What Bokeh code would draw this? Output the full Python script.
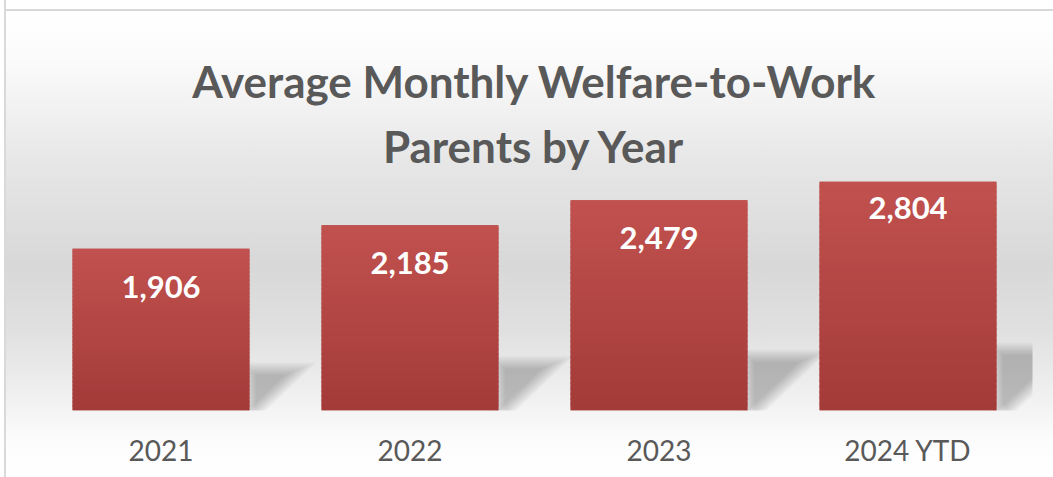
import numpy as np
from bokeh.plotting import figure
from bokeh.models import Range1d, FixedTicker, Title
from bokeh.embed import file_html
from bokeh.resources import INLINE
from bokeh.core.properties import value

# ---- data ----
categories = ["2021", "2022", "2023", "2024 YTD"]
parents = [1906, 2185, 2479, 2804]
value_labels = ["1,906", "2,185", "2,479", "2,804"]
title_lines = ["Average Monthly Welfare-to-Work", "Parents by Year"]
Y_MAX = 2700  # fixed axis maximum (last bar is clipped at the top)

# ---- layout ----
W, H = 1053, 477
ML, MR, MT, MB = 36, 21, 181, 67
frame_w = W - ML - MR
frame_h = H - MT - MB
px_x = frame_w / len(categories)
px_y = frame_h / Y_MAX
BAR_W = 0.71
FONT = "Lato"
GRAY_TEXT = "#595959"

idx = list(range(len(categories)))

p = figure(width=W, height=H, output_backend="svg", toolbar_location=None,
           x_range=Range1d(-0.5, len(categories) - 0.5), y_range=Range1d(0, Y_MAX),
           min_border_left=ML, min_border_right=MR, min_border_top=MT, min_border_bottom=MB)

p.border_fill_color = None
p.background_fill_color = None
p.outline_line_color = None
p.styles = {
    "background": (
        "linear-gradient(to right, #ffffff 0px, #ffffff 4px, #d9d9d9 4px, #d9d9d9 6px, rgba(255,255,255,0) 6px), "
        "linear-gradient(to bottom, #ffffff 0px, #ffffff 9px, #d9d9d9 9px, #d9d9d9 11px, #ffffff 11px, "
        "#fbfbfb 60px, #e7e7e7 160px, #d8d8d8 265px, #e0e0e0 330px, #f1f1f1 400px, #fcfcfc 440px, #ffffff 477px)"
    ),
}

# ---- title (two centred lines) ----
p.title.visible = False
title_standoffs = [2, 20]
for line, so in reversed(list(zip(title_lines, title_standoffs))):
    p.add_layout(Title(text=line, align="center", text_font=FONT, text_font_size="44px",
                       text_font_style="bold", text_color=GRAY_TEXT, standoff=so), "above")


# ---- blurred perspective shadows ----
def offset_poly(pts, d):
    """Offset a clockwise (y-up) convex polygon outward by d pixels."""
    n = len(pts)
    lines = []
    for k in range(n):
        p0 = np.array(pts[k], float)
        p1 = np.array(pts[(k + 1) % n], float)
        e = p1 - p0
        e /= np.linalg.norm(e)
        nrm = np.array([-e[1], e[0]])
        lines.append((p0 + d * nrm, e))
    out = []
    for k in range(n):
        (a, ea), (b, eb) = lines[k - 1], lines[k]
        A = np.array([[ea[0], -eb[0]], [ea[1], -eb[1]]])
        t = np.linalg.solve(A, b - a)
        out.append(a + t[0] * ea)
    return out


blur_steps = [-6, -4, -2, 0, 2, 4, 6]
for d in blur_steps:
    xs, ys = [], []
    for i, v in enumerate(parents):
        h_px = v * px_y
        s_px = 0.26 * h_px
        dx_px = 0.32 * h_px
        poly = [(0, 0), (0, s_px), (dx_px, s_px), (0.15 * dx_px, 0)]
        off = offset_poly(poly, d)
        r = i + BAR_W / 2
        xs.append([r + q[0] / px_x for q in off])
        ys.append([q[1] / px_y for q in off])
    p.patches(xs, ys, fill_color="black", fill_alpha=0.034, line_color=None)

# ---- bars with vertical gradient ----
p.vbar(x=idx, top=parents, width=BAR_W, bottom=0, fill_color="#b24542", line_color=None)

top_rgb = np.array([0xc1, 0x51, 0x4e])
bot_rgb = np.array([0xa3, 0x3b, 0x39])
N = 40
gl, gr, gb, gt, gc = [], [], [], [], []
for i, v in enumerate(parents):
    vis = min(v, Y_MAX)
    for k in range(N):
        f0 = k / N
        f1 = (k + 1) / N
        c = bot_rgb + (top_rgb - bot_rgb) * ((k + 0.5) / N)
        gl.append(i - BAR_W / 2)
        gr.append(i + BAR_W / 2)
        gb.append(vis * f0)
        gt.append(min(vis, vis * f1 + vis * 0.01))
        gc.append("#%02x%02x%02x" % tuple(int(round(x)) for x in c))
p.quad(left=gl, right=gr, bottom=gb, top=gt, fill_color=gc, line_color=None)

# ---- value labels ----
lab_y = [min(v, Y_MAX) - (26 if v > Y_MAX else 38) / px_y for v in parents]
p.text(x=idx, y=lab_y, text=value_labels, text_font=value(FONT), text_font_size="31px",
       text_font_style="bold", text_color="white", text_align="center", text_baseline="middle")

# ---- axes ----
p.xaxis.ticker = FixedTicker(ticks=idx)
p.xaxis.major_label_overrides = {i: c for i, c in enumerate(categories)}
p.xaxis.axis_line_color = None
p.xaxis.major_tick_line_color = None
p.xaxis.minor_tick_line_color = None
p.xaxis.major_tick_out = 0
p.xaxis.major_label_standoff = 22
p.xaxis.major_label_text_font = FONT
p.xaxis.major_label_text_font_size = "28px"
p.xaxis.major_label_text_color = GRAY_TEXT
p.yaxis.visible = False
p.grid.visible = False

open("out.html", "w").write(file_html(p, INLINE))
